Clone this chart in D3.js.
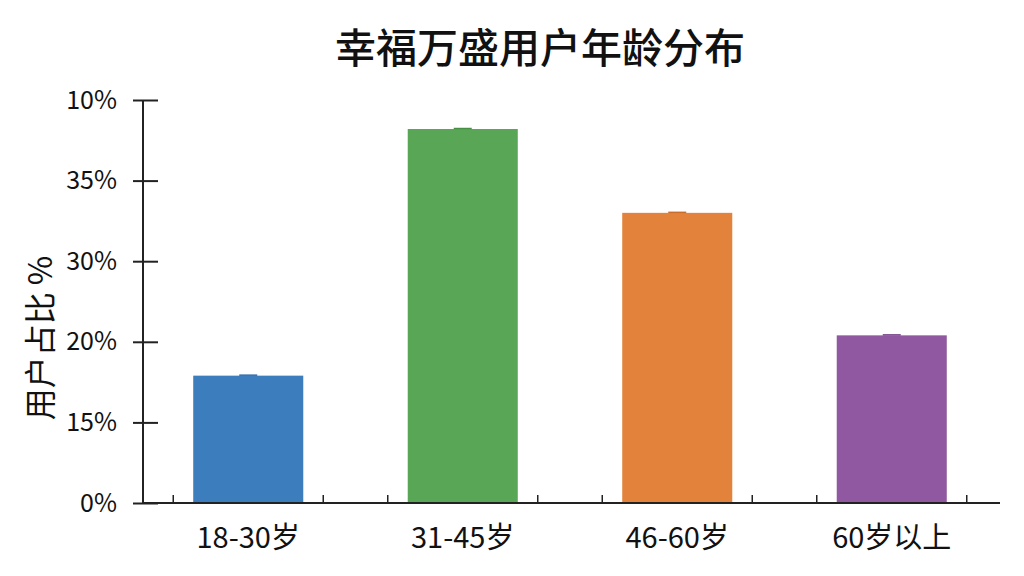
<!DOCTYPE html>
<html>
<head>
<meta charset="utf-8">
<script src="https://cdn.jsdelivr.net/npm/d3@7"></script>
<style>
  body { margin: 0; background: #fff; }
  text { font-family: "Noto Sans CJK SC", "Noto Sans", sans-serif; fill: #111; }
</style>
</head>
<body>
<div id="chart"></div>
<script>
// data
const categories = ["18-30岁", "31-45岁", "46-60岁", "60岁以上"];
const shares = [15.8, 46.4, 36.0, 20.8];
const barColors = ["#3b7dbd", "#59a656", "#e3823a", "#8f58a0"];
const capColors = ["#2f6aa6", "#488f46", "#c96d2a", "#784489"];
const tickValues = [0, 10, 20, 30, 40, 50];
const tickLabels = ["0%", "15%", "20%", "30%", "35%", "10%"];

const width = 1024, height = 576;
const plotLeft = 143, plotRight = 1000, plotTop = 100, plotBottom = 503;

const svg = d3.select("#chart").append("svg")
  .attr("width", width)
  .attr("height", height);

const x = d3.scaleBand()
  .domain(categories)
  .range([141, 999])
  .paddingInner(0.487)
  .paddingOuter(0.2435);

const y = d3.scaleLinear()
  .domain([0, 50])
  .range([plotBottom, plotTop]);

// title
svg.append("text")
  .attr("x", 540)
  .attr("y", 63)
  .attr("text-anchor", "middle")
  .attr("font-size", 41)
  .attr("font-weight", 500)
  .text("幸福万盛用户年龄分布");

// bars
svg.selectAll("rect.bar")
  .data(shares)
  .enter().append("rect")
  .attr("class", "bar")
  .attr("x", (d, i) => x(categories[i]))
  .attr("y", d => y(d))
  .attr("width", x.bandwidth())
  .attr("height", d => y(0) - y(d))
  .attr("fill", (d, i) => barColors[i]);

// tiny caps on top of bars
svg.selectAll("line.cap")
  .data(shares)
  .enter().append("line")
  .attr("class", "cap")
  .attr("x1", (d, i) => x(categories[i]) + x.bandwidth() / 2 - 9)
  .attr("x2", (d, i) => x(categories[i]) + x.bandwidth() / 2 + 9)
  .attr("y1", d => y(d) - 0.5)
  .attr("y2", d => y(d) - 0.5)
  .attr("stroke", (d, i) => capColors[i])
  .attr("stroke-width", 1.5);

// y axis
const yAxis = svg.append("g")
  .attr("transform", `translate(${plotLeft},0)`)
  .call(d3.axisLeft(y)
    .tickValues(tickValues)
    .tickFormat((d, i) => tickLabels[i])
    .tickSize(10)
    .tickPadding(16));
yAxis.select(".domain").attr("stroke", "#222").attr("stroke-width", 2).attr("d", `M0,${plotTop}V${plotBottom}`);
yAxis.selectAll(".tick line").attr("stroke", "#222").attr("stroke-width", 2).attr("x1", 15);
yAxis.selectAll(".tick text")
  .attr("font-size", 25)
  .attr("fill", "#1a1a1a")
  .attr("font-family", "'Open Sans', 'Noto Sans', sans-serif");

// x axis line
svg.append("line")
  .attr("x1", plotLeft - 1).attr("x2", plotRight)
  .attr("y1", plotBottom).attr("y2", plotBottom)
  .attr("stroke", "#222").attr("stroke-width", 2);

// small ticks at each group edge
const half = 75;
const edges = [];
categories.forEach(c => {
  const cx = x(c) + x.bandwidth() / 2;
  edges.push(cx - half, cx + half);
});
svg.selectAll("line.xtick")
  .data(edges)
  .enter().append("line")
  .attr("class", "xtick")
  .attr("x1", d => d).attr("x2", d => d)
  .attr("y1", plotBottom).attr("y2", plotBottom - 8)
  .attr("stroke", "#222").attr("stroke-width", 1.5);

// x labels
svg.selectAll("text.xlab")
  .data(categories)
  .enter().append("text")
  .attr("class", "xlab")
  .attr("x", d => x(d) + x.bandwidth() / 2)
  .attr("y", 548)
  .attr("text-anchor", "middle")
  .attr("font-size", 29)
  .text(d => d);

// y label
svg.append("text")
  .attr("transform", "translate(52,338) rotate(-90)")
  .attr("text-anchor", "middle")
  .attr("font-size", 32)
  .text("用户占比 %");
</script>
</body>
</html>
